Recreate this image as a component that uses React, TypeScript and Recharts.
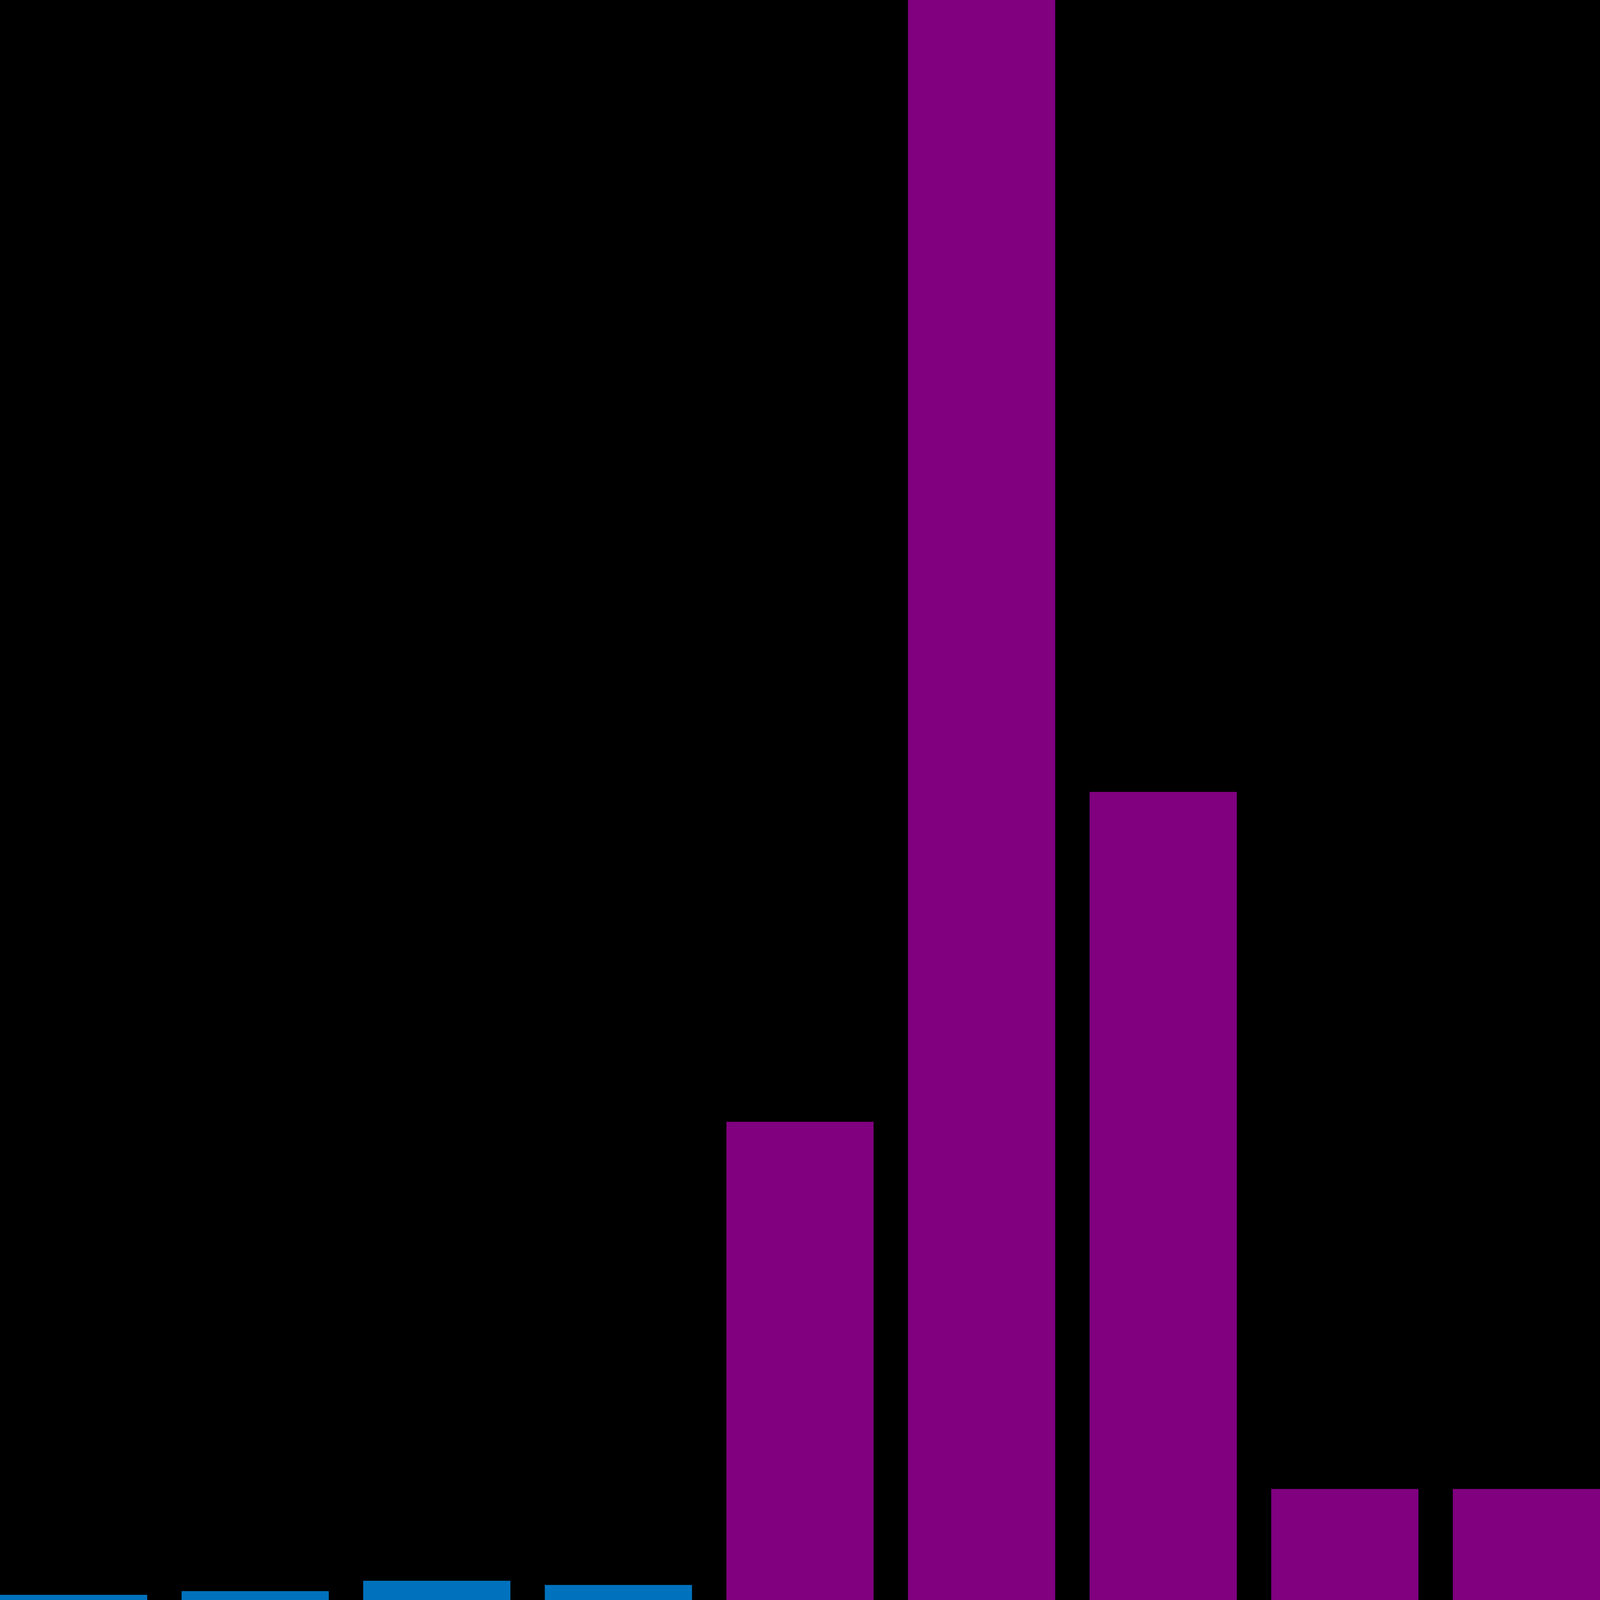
import React from "react";
import { BarChart, Bar, XAxis, YAxis } from "recharts";

const categories = ["1", "2", "3", "4", "5", "6", "7", "8", "9"];
const blueValues = [17, 29, 63, 49, null, null, null, null, null];
const purpleValues = [null, null, null, null, 1563, 5229, 2641, 363, 363];
const yMax = 5229;

const data = categories.map((c, i) => ({
  name: c,
  blue: blueValues[i],
  purple: purpleValues[i],
}));

const W = 7555;
const H = 5229;
const BAND = 857.5;
const BAR = 695;
const SIDE = (BAND - BAR) / 2;

export default function App() {
  const vw = typeof window !== "undefined" ? window.innerWidth : W;
  const vh = typeof window !== "undefined" ? window.innerHeight : H;
  const sx = Math.min(1, vw / W);
  const sy = Math.min(1, vh / H);
  return (
    <div
      style={{
        position: "fixed",
        left: 0,
        top: 0,
        width: "100vw",
        height: "100vh",
        background: "#000000",
        overflow: "hidden",
      }}
    >
      <div
        style={{
          position: "absolute",
          left: 0,
          top: 0,
          width: W,
          height: H,
          overflow: "hidden",
          background: "#000000",
          transform: `scale(${sx}, ${sy})`,
          transformOrigin: "0 0",
        }}
      >
        <div style={{ position: "absolute", left: -SIDE, top: 0 }}>
          <BarChart
            width={BAND * categories.length}
            height={H}
            data={data}
            margin={{ top: 0, right: 0, bottom: 0, left: 0 }}
            barSize={BAR}
          >
            <XAxis dataKey="name" hide />
            <YAxis hide domain={[0, yMax]} />
            <Bar dataKey="blue" stackId="s" fill="#0072BD" isAnimationActive={false} />
            <Bar dataKey="purple" stackId="s" fill="#800080" isAnimationActive={false} />
          </BarChart>
        </div>
      </div>
    </div>
  );
}
